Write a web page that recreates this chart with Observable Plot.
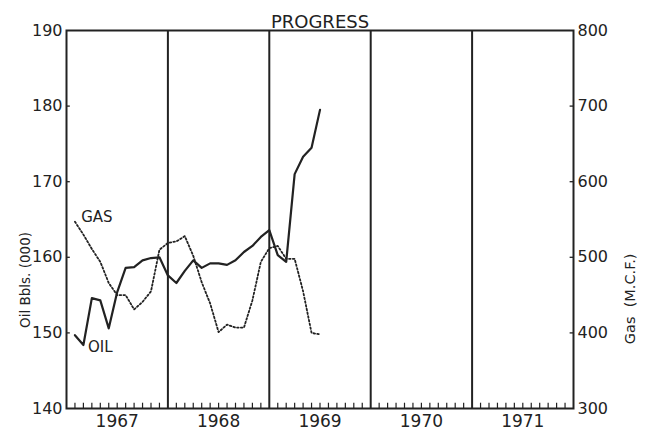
<!DOCTYPE html>
<html>
<head>
<meta charset="utf-8">
<script src="https://cdn.jsdelivr.net/npm/d3@7"></script>
<script src="https://cdn.jsdelivr.net/npm/@observablehq/plot@0.6"></script>
<style>
  html, body { margin: 0; padding: 0; background: #fff; }
</style>
</head>
<body>
<div id="chart"></div>
<script>
// Month index counted from January 1967 (0 = start of 1967)
const months = [1,2,3,4,5,6,7,8,9,10,11,12,13,14,15,16,17,18,19,20,21,22,23,24,25,26,27,28,29,30];
// Oil, thousand barrels (left axis)
const oil = [149.7,148.4,154.6,154.3,150.6,155.4,158.6,158.7,159.6,159.9,160.0,157.6,156.6,158.2,159.6,158.6,159.2,159.2,159.0,159.6,160.7,161.5,162.7,163.6,160.3,159.4,171.0,173.3,174.5,179.5];
// Gas, M.C.F. (right axis)
const gas = [547,530,511,494,466,450,450,431,441,455,510,519,521,528,502,467,439,401,411,407,407,443,494,512,515,498,498,455,400,398];

const yearLabels = ["1967","1968","1969","1970","1971"];
const yearCenters = [6,18,30,42,54];
const yearBounds = [12,24,36,48];
const oilTicks = [140,150,160,170,180,190];
const gasTicks = [300,400,500,600,700,800];
const monthTicks = d3.range(1,60).filter(m => m % 12 !== 0);

const title = "PROGRESS";
const oilAxisLabel = "Oil Bbls. (000)";
const gasAxisLabel = "Gas  (M.C.F.)";

const table = months.map((m, i) => ({m, oil: oil[i], gas: gas[i]}));
// map gas values onto the oil scale (300..800 <-> 140..190)
const gasToOil = g => 140 + (g - 300) / 10;

const ink = "#222";

const chart = Plot.plot({
  width: 645,
  height: 433,
  marginLeft: 66,
  marginRight: 72,
  marginTop: 30,
  marginBottom: 25,
  x: {domain: [0, 60]},
  y: {domain: [140, 190]},
  style: {fontFamily: "DejaVu Sans, sans-serif", fontSize: "15px", color: ink, background: "#fff"},
  marks: [
    Plot.axisY(oilTicks, {anchor: "left", tickSize: 0, tickPadding: 4, label: null, fontSize: 16}),
    Plot.axisY(oilTicks, {anchor: "right", tickSize: 0, tickPadding: 4, label: null, fontSize: 16,
      tickFormat: d => String(gasTicks[oilTicks.indexOf(d)])}),
    Plot.axisX(yearCenters, {anchor: "bottom", tickSize: 0, tickPadding: 6, label: null, fontSize: 17,
      tickFormat: d => yearLabels[yearCenters.indexOf(d)]}),
    // inward ticks
    Plot.ruleY(oilTicks.slice(1, -1), {x1: 0, x2: 0.45, stroke: ink, strokeWidth: 1.3}),
    Plot.ruleY(oilTicks.slice(1, -1), {x1: 59.6, x2: 60, stroke: ink, strokeWidth: 1.3}),
    Plot.ruleX(monthTicks, {y1: 140, y2: 140.7, stroke: ink, strokeWidth: 1.2}),
    // year dividers and frame
    Plot.ruleX(yearBounds, {stroke: ink, strokeWidth: 2}),
    Plot.frame({stroke: ink, strokeWidth: 2}),
    // series
    Plot.line(table, {x: "m", y: d => gasToOil(d.gas), stroke: ink, strokeWidth: 1.8, strokeDasharray: "1.6,2.2"}),
    Plot.line(table, {x: "m", y: "oil", stroke: ink, strokeWidth: 2.2}),
    // series labels
    Plot.text(["GAS"], {x: 3.6, y: 165.3, fontSize: 15, fill: ink}),
    Plot.text(["OIL"], {x: 4.0, y: 148.1, fontSize: 15, fill: ink}),
    // title and axis labels
    Plot.text([title], {frameAnchor: "top", dy: -15, fontSize: 18, fill: ink}),
    Plot.text([oilAxisLabel], {x: 0, y: 157, dx: -41, rotate: -90, fontSize: 13.5, fill: ink}),
    Plot.text([gasAxisLabel], {x: 60, y: 154.5, dx: 57, rotate: -90, fontSize: 14.5, fill: ink})
  ]
});
document.getElementById("chart").append(chart);
</script>
</body>
</html>
